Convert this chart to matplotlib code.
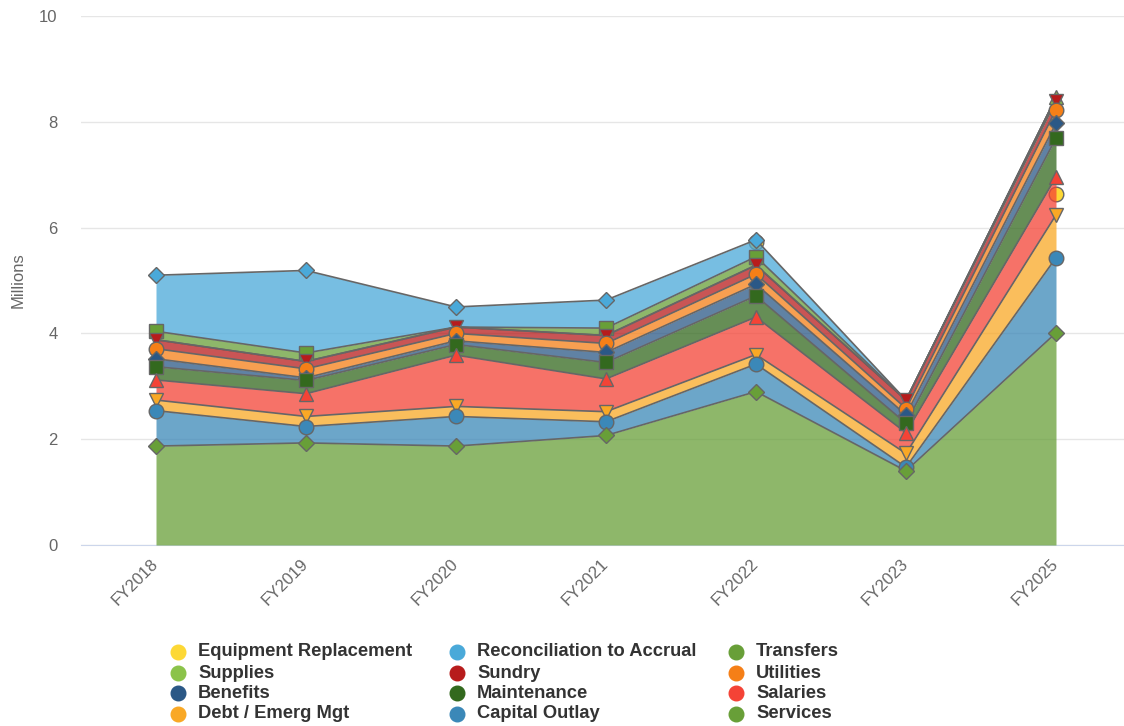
import numpy as np
import matplotlib.pyplot as plt
from matplotlib.lines import Line2D

plt.rcParams['font.family'] = ['Liberation Sans', 'DejaVu Sans']

years = ["FY2018", "FY2019", "FY2020", "FY2021", "FY2022", "FY2023", "FY2025"]
nan = np.nan

# values in millions, one list per series (chart order, first series sits on top)
# nan = no point for that year
equipment = [nan, nan, nan, nan, 5.72, nan, 6.63]   # not stacked
reconciliation = [1.06, 1.56, 0.38, 0.53, 0.32, nan, nan]
transfers = [0.16, 0.16, nan, 0.14, 0.16, nan, nan]
supplies = [nan, nan, nan, nan, nan, nan, 0.06]
sundry = [0.17, 0.14, 0.12, 0.15, 0.17, 0.16, 0.17]
utilities = [0.19, 0.17, 0.14, 0.17, 0.19, 0.12, 0.26]
benefits = [0.15, 0.05, 0.07, 0.19, 0.22, 0.16, 0.28]
maintenance = [0.25, 0.25, 0.20, 0.31, 0.40, 0.18, 0.73]
salaries = [0.38, 0.43, 0.97, 0.62, 0.71, 0.39, 0.72]
debt = [0.20, 0.19, 0.19, 0.19, 0.18, 0.26, 0.81]
capital = [0.67, 0.31, 0.56, 0.26, 0.52, 0.07, 1.42]
services = [1.87, 1.93, 1.87, 2.07, 2.90, 1.40, 4.01]

names = ["Equipment Replacement", "Reconciliation to Accrual", "Transfers",
         "Supplies", "Sundry", "Utilities", "Benefits", "Maintenance",
         "Salaries", "Debt / Emerg Mgt", "Capital Outlay", "Services"]
values = [equipment, reconciliation, transfers, supplies, sundry, utilities,
          benefits, maintenance, salaries, debt, capital, services]
colors = ["#FDD835", "#4AA9D9", "#689F38", "#8BC34A", "#B71C1C", "#F57F17",
          "#2B5886", "#33691E", "#F44336", "#F9A825", "#3B88B8", "#689F38"]
symbols = ['o', 'D', 's', '^', 'v']
msizes = {'o': 10.5, 'D': 8.5, 's': 10, '^': 10.5, 'v': 10.5}

fig = plt.figure(figsize=(11.24, 7.26), dpi=100)
ax = fig.add_axes([81 / 1124, 181 / 726, 1050 / 1124, 529 / 726])

x = np.arange(len(years))
base = np.zeros(len(years))
for i in range(len(names) - 1, 0, -1):
    vals = np.array(values[i], dtype=float)
    top = base + np.nan_to_num(vals)
    z = 2 + i
    ax.fill_between(x, base, top, color=colors[i], alpha=0.75, lw=0, zorder=z)
    ax.plot(x, top, color='#666666', lw=1.2, zorder=z + 0.1)
    m = symbols[i % 5]
    mtop = np.where(np.isnan(vals), np.nan, top)
    ax.plot(x, mtop, ls='none', marker=m, ms=msizes[m], mfc=colors[i],
            mec='#666666', mew=1, zorder=20 + i, clip_on=False)
    base = top

# equipment replacement is drawn on its own, under the stack
ax.plot(x, equipment, ls='none', marker='o', ms=10.5, mfc=colors[0],
        mec='#666666', mew=1, zorder=2)

ax.set_xlim(-0.5, 6.5)
ax.set_ylim(0, 10)
ax.set_yticks([0, 2, 4, 6, 8, 10])
ax.set_xticks(x)
ax.set_xticklabels(years, rotation=45, ha='right', va='center',
                   rotation_mode='anchor')
ax.tick_params(axis='both', length=0, colors='#666666', labelsize=12)
ax.tick_params(axis='y', pad=17)
ax.tick_params(axis='x', pad=12)
ax.grid(axis='y', color='#e6e6e6', lw=1)
ax.set_axisbelow(True)
for s in ['top', 'right', 'left']:
    ax.spines[s].set_visible(False)
ax.spines['bottom'].set_color('#ccd6eb')
ax.spines['bottom'].set_zorder(1)

fig.text(18 / 1124, 1 - 280 / 726, "Millions", rotation=90, ha='center',
         va='center', color='#666666', fontsize=12)

# legend, three columns filled row by row
col_x = [178, 457, 736]
row_y = [652, 673, 693, 714]
for k, name in enumerate(names):
    cx = col_x[k % 3]
    cy = row_y[k // 3]
    fig.add_artist(Line2D([cx / 1124], [1 - cy / 726], transform=fig.transFigure,
                          marker='o', ms=10.5, mfc=colors[k], mec=colors[k], ls='none'))
    fig.text((cx + 20) / 1124, 1 - cy / 726, name, ha='left', va='center',
             fontsize=13.2, fontweight='bold', color='#333333')

fig.savefig("out.png", dpi=100)
